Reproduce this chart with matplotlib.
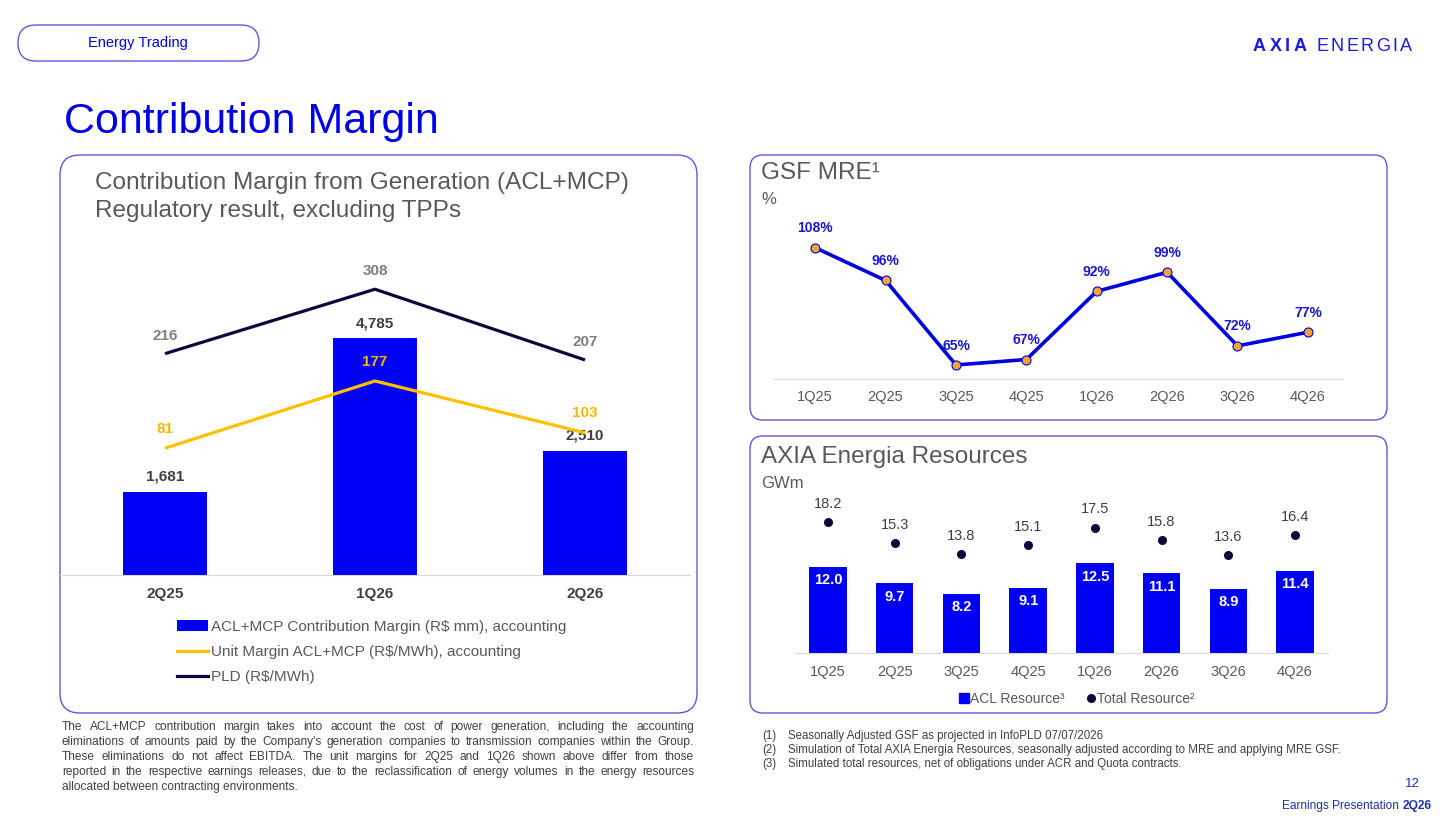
import matplotlib
matplotlib.use("Agg")
import matplotlib.pyplot as plt
from matplotlib.patches import FancyBboxPatch, Patch
from matplotlib.lines import Line2D

# data
cm_quarters = ["2Q25", "1Q26", "2Q26"]
cm_margin = [1681, 4785, 2510]          # R$ mm
cm_unit = [81, 177, 103]                # R$/MWh
cm_pld = [216, 308, 207]                # R$/MWh

gsf_quarters = ["1Q25", "2Q25", "3Q25", "4Q25", "1Q26", "2Q26", "3Q26", "4Q26"]
gsf_values = [108, 96, 65, 67, 92, 99, 72, 77]

res_quarters = ["1Q25", "2Q25", "3Q25", "4Q25", "1Q26", "2Q26", "3Q26", "4Q26"]
res_acl = [12.0, 9.7, 8.2, 9.1, 12.5, 11.1, 8.9, 11.4]
res_total = [18.2, 15.3, 13.8, 15.1, 17.5, 15.8, 13.6, 16.4]

left_note = [
    "The ACL+MCP contribution margin takes into account the cost of power generation, including the accounting",
    "eliminations of amounts paid by the Company's generation companies to transmission companies within the Group.",
    "These eliminations do not affect EBITDA. The unit margins for 2Q25 and 1Q26 shown above differ from those",
    "reported in the respective earnings releases, due to the reclassification of energy volumes in the energy resources",
    "allocated between contracting environments.",
]
right_notes = [
    ("(1)", "Seasonally Adjusted GSF as projected in InfoPLD 07/07/2026"),
    ("(2)", "Simulation of Total AXIA Energia Resources, seasonally adjusted according to MRE and applying MRE GSF."),
    ("(3)", "Simulated total resources, net of obligations under ACR and Quota contracts."),
]

BAR = "#0000F5"
TITLE_BLUE = "#0000E6"
LINE_BLUE = "#0000E0"
NAVY = "#0A0A3A"
GOLD = "#FFC000"
GRAY = "#595959"
DARK = "#404040"
BOX = "#5A5AE0"

W, H = 1453, 819
plt.rcParams["font.family"] = ["Liberation Sans", "DejaVu Sans"]

fig = plt.figure(figsize=(W / 100, H / 100), dpi=100)
bg = fig.add_axes([0, 0, 1, 1])
bg.set_xlim(0, W)
bg.set_ylim(H, 0)
bg.axis("off")
renderer = fig.canvas.get_renderer()


def add_box(x0, y0, x1, y1, r, lw=1.0):
    bg.add_patch(FancyBboxPatch((x0, y0), x1 - x0, y1 - y0,
                                boxstyle=f"round,pad=0,rounding_size={r}",
                                fc="white", ec=BOX, lw=lw))


def px_axes(x0, y0, x1, y1):
    ax = fig.add_axes([x0 / W, 1 - y1 / H, (x1 - x0) / W, (y1 - y0) / H])
    ax.patch.set_alpha(0)
    for side in ["top", "left", "right"]:
        ax.spines[side].set_visible(False)
    ax.spines["bottom"].set_color("#D9D9D9")
    ax.set_yticks([])
    return ax


def text_width(t):
    return t.get_window_extent(renderer).width


def spaced_text(x, y, s, track, **kw):
    for ch in s:
        t = bg.text(x, y, ch, **kw)
        x += text_width(t) + track
    return x


# frames
add_box(18, 25, 259, 61, 18)
add_box(60, 155, 697, 713, 20)
add_box(750, 155, 1387, 420, 13)
add_box(750, 436, 1387, 713, 13)

# header texts
bg.text(138, 43, "Energy Trading", ha="center", va="center", fontsize=10.5, color=TITLE_BLUE)
bg.text(64, 133, "Contribution Margin", fontsize=31, color=TITLE_BLUE, va="baseline")
xe = spaced_text(1253, 51, "AXIA", 3.5, fontsize=13, fontweight="bold", color="#1A1AE6", va="baseline")
spaced_text(xe + 6, 51, "ENERGIA", 2.5, fontsize=13, color="#1A1AE6", va="baseline")

bg.text(95, 189, "Contribution Margin from Generation (ACL+MCP)", fontsize=17.6, color=GRAY, va="baseline")
bg.text(95, 217, "Regulatory result, excluding TPPs", fontsize=17.6, color=GRAY, va="baseline")
bg.text(761, 179, "GSF MRE\u00b9", fontsize=17.5, color=GRAY, va="baseline")
bg.text(761, 204, "%", fontsize=12, color=GRAY, va="baseline")
bg.text(761, 463, "AXIA Energia Resources", fontsize=17.5, color=GRAY, va="baseline")
bg.text(761, 488, "GWm", fontsize=12, color=GRAY, va="baseline")

# left chart: bars + two lines on a second axis
ax = px_axes(60, 250, 690, 575)
xs = range(len(cm_quarters))
ax.bar(xs, cm_margin, width=0.4, color=BAR)
ax.set_xlim(-0.5, 2.5)
ax.set_ylim(0, 6566)
for i, v in enumerate(cm_margin):
    ax.annotate(f"{v:,}", (i, v), xytext=(0, 10.8), textcoords="offset points",
                ha="center", va="center", fontsize=11, fontweight="bold", color=DARK)
ax.set_xticks(list(xs), cm_quarters)
ax.tick_params(axis="x", length=0, pad=8.5, labelsize=11, labelcolor=DARK)
for lbl in ax.get_xticklabels():
    lbl.set_fontweight("bold")

ax2 = ax.twinx()
ax2.set_ylim(-100, 364)
ax2.set_yticks([])
for s in ax2.spines.values():
    s.set_visible(False)
ax2.plot(xs, cm_pld, color=NAVY, lw=2.3, solid_capstyle="butt")
ax2.plot(xs, cm_unit, color=GOLD, lw=2.3, solid_capstyle="butt")
for i, v in enumerate(cm_pld):
    ax2.annotate(str(v), (i, v), xytext=(0, 13), textcoords="offset points",
                 ha="center", va="center", fontsize=11, fontweight="bold", color="#7F7F7F")
for i, v in enumerate(cm_unit):
    ax2.annotate(str(v), (i, v), xytext=(0, 14), textcoords="offset points",
                 ha="center", va="center", fontsize=11, fontweight="bold", color="#F5B800")

fig.legend(handles=[Patch(fc=BAR), Line2D([], [], color=GOLD, lw=2.3),
                    Line2D([], [], color=NAVY, lw=2.3)],
           labels=["ACL+MCP Contribution Margin (R$ mm), accounting",
                   "Unit Margin ACL+MCP (R$/MWh), accounting",
                   "PLD (R$/MWh)"],
           loc="upper left", bbox_to_anchor=(177 / W, 1 - 620 / H), frameon=False,
           fontsize=11, handlelength=2.0, handletextpad=0.25, labelspacing=0.72,
           borderpad=0, borderaxespad=0, labelcolor=GRAY)

# GSF MRE line
axg = px_axes(773, 215, 1343, 378.6)
gx = range(len(gsf_quarters))
axg.plot(gx, gsf_values, color=LINE_BLUE, lw=2.6, marker="o", ms=6.5,
         mfc="#F2A33A", mec=LINE_BLUE, mew=0.8, clip_on=False)
axg.set_xlim(-0.6, 7.5)
axg.set_ylim(60, 120)
for i, v in enumerate(gsf_values):
    axg.annotate(f"{v}%", (i, v), xytext=(0, 14), textcoords="offset points",
                 ha="center", va="center", fontsize=10, fontweight="bold", color="#1A1ACD")
axg.set_xticks(list(gx), gsf_quarters)
axg.tick_params(axis="x", length=0, pad=8, labelsize=10.5, labelcolor=GRAY)

# resources bars + dots
axr = px_axes(794.7, 490, 1328.3, 653)
rx = range(len(res_quarters))
axr.bar(rx, res_acl, width=0.56, color=BAR)
axr.plot(rx, res_total, "o", color=NAVY, ms=5.5)
axr.set_xlim(-0.5, 7.5)
axr.set_ylim(0, 22.73)
for i, v in enumerate(res_acl):
    axr.annotate(f"{v:.1f}", (i, v), xytext=(0, -9.5), textcoords="offset points",
                 ha="center", va="center", fontsize=10.5, fontweight="bold", color="white")
for i, v in enumerate(res_total):
    axr.annotate(f"{v:.1f}", (i, v), xytext=(0, 13), textcoords="offset points",
                 ha="center", va="center", fontsize=10.5, color=DARK)
axr.set_xticks(list(rx), res_quarters)
axr.tick_params(axis="x", length=0, pad=8.5, labelsize=10.5, labelcolor=GRAY)

fig.legend(handles=[Line2D([], [], ls="none", marker="s", ms=6.5, color=BAR),
                    Line2D([], [], ls="none", marker="o", ms=5.5, color=NAVY)],
           labels=["ACL Resource\u00b3", "Total Resource\u00b2"],
           loc="center", bbox_to_anchor=(1077 / W, 1 - 699 / H), ncol=2, frameon=False,
           fontsize=10, handlelength=0.6, handletextpad=0.15, columnspacing=1.6,
           borderpad=0, borderaxespad=0, labelcolor=GRAY)

# left footnote, justified
note_kw = dict(fontsize=8.6, color=DARK, va="center")
for n, line in enumerate(left_note):
    y = 727 + n * 14.9
    if n == len(left_note) - 1:
        bg.text(62, y, line, **note_kw)
        continue
    words = [bg.text(0, y, w, **note_kw) for w in line.split()]
    widths = [text_width(t) for t in words]
    gap = (694 - 62 - sum(widths)) / (len(words) - 1)
    x = 62
    for t, w in zip(words, widths):
        t.set_x(x)
        x += w + gap

# right footnotes
for n, (num, txt) in enumerate(right_notes):
    y = 736 + n * 14
    bg.text(762, y, num, fontsize=8.3, color=DARK, va="center")
    bg.text(788, y, txt, fontsize=8.3, color=DARK, va="center")

# page footer
bg.text(1420, 784, "12", fontsize=9.5, color="#2030B0", ha="right", va="center")
t26 = bg.text(1432, 806, "2Q26", fontsize=8.6, fontweight="bold", color="#2030B0", ha="right", va="center")
bg.text(1432 - text_width(t26) - 4, 806, "Earnings Presentation", fontsize=8.6,
        color="#2030B0", ha="right", va="center")

fig.savefig("out.png", dpi=100)
